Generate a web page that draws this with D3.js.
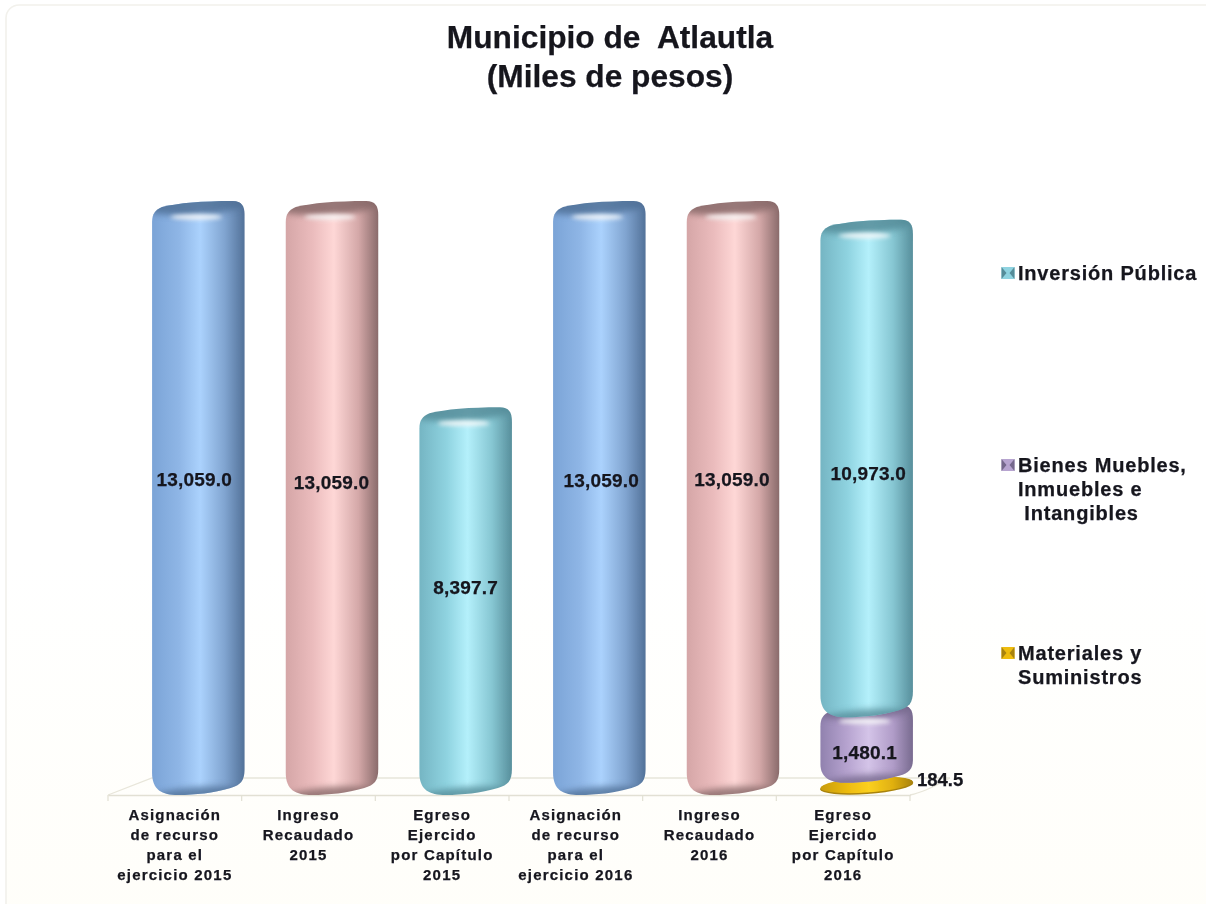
<!DOCTYPE html>
<html><head><meta charset="utf-8">
<script src="https://cdn.jsdelivr.net/npm/d3@7"></script>
<style>
html,body{margin:0;padding:0;background:#fff;overflow:hidden}
svg{display:block}
text{font-family:"Liberation Sans",Arial,sans-serif;font-weight:700;fill:#15151f;stroke:#15151f;stroke-width:.25}
</style></head><body>
<div id="chart"></div>
<script>
const categories = [
  ["Asignación","de recurso","para el","ejercicio 2015"],
  ["Ingreso","Recaudado","2015"],
  ["Egreso","Ejercido","por Capítulo","2015"],
  ["Asignación","de recurso","para el","ejercicio 2016"],
  ["Ingreso","Recaudado","2016"],
  ["Egreso","Ejercido","por Capítulo","2016"]
];
const materiales = [0,0,0,0,0,184.5];
const bienes     = [0,0,0,0,0,1480.1];
const inversion  = [0,0,8397.7,0,0,10973.0];
const asignacion = [13059.0,0,0,13059.0,0,0];
const ingreso    = [0,13059.0,0,0,13059.0,0];
const legendLines = [["Inversión Pública"],["Bienes Muebles,","Inmuebles e"," Intangibles"],["Materiales y","Suministros"]];
const legendIdx = [2,1,0];
const titleLines = ["Municipio de  Atlautla","(Miles de pesos)"];

// layout of the value labels as placed in the reference
const labelDx = [-4,-0.5,0,2,-1,1.5];
const labelBase = [486,489,594,487,486,480];

const W=1206,H=904;
const svg=d3.select("#chart").append("svg").attr("width",W).attr("height",H);
const defs=svg.append("defs");
const ramps=[
 ["#c89c0c","#eebc10","#fbd020","#e0b010","#a8820a"],
 ["#8f80ad","#b7a4d0","#d4c4e8","#b09cc8","#75688c"],
 ["#74b4c2","#8fd3e0","#b4f0fb","#86c6d2","#558c99"],
 ["#7aa3d6","#8fb6e6","#abd2fd","#80a4d0","#506f96"],
 ["#d4a5a6","#ebbcbd","#fed7d6","#d4a8a8","#866868"]];
ramps.forEach((r,i)=>{
  const g=defs.append("linearGradient").attr("id","g"+i).attr("x1",0).attr("x2",1).attr("y1",0).attr("y2",0);
  [0,.3,.52,.78,1].forEach((o,j)=>g.append("stop").attr("offset",o).attr("stop-color",r[j]));
});
const pg=defs.append("linearGradient").attr("id","panel").attr("x1",0).attr("x2",0).attr("y1",0).attr("y2",1);
pg.append("stop").attr("offset",0).attr("stop-color","#ffffff");
pg.append("stop").attr("offset",.6).attr("stop-color","#ffffff");
pg.append("stop").attr("offset",1).attr("stop-color","#fffef9");
const soft=defs.append("filter").attr("id","soft").attr("x","-5%").attr("y","-5%").attr("width","110%").attr("height","110%");
soft.append("feGaussianBlur").attr("stdDeviation",0.6);
const blur=defs.append("filter").attr("id","blur").attr("x","-50%").attr("y","-150%").attr("width","200%").attr("height","400%");
blur.append("feGaussianBlur").attr("stdDeviation",3);
const hi=defs.append("filter").attr("id","hi").attr("x","-50%").attr("y","-200%").attr("width","200%").attr("height","500%");
hi.append("feGaussianBlur").attr("stdDeviation",2);
const txt=defs.append("filter").attr("id","txt");
txt.append("feGaussianBlur").attr("stdDeviation",0.4);

// panel
svg.append("rect").attr("x",6).attr("y",5).attr("width",1230).attr("height",925).attr("rx",13)
  .attr("fill","url(#panel)").attr("stroke","#f2f1ec").attr("stroke-width",1.6);

const x=d3.scaleBand().domain(d3.range(categories.length)).range([108,910]);
const y=d3.scaleLinear().domain([0,13059]).range([786,208]);
const depth=23, barW=92.5;

// floor
svg.append("path").attr("fill","none").attr("stroke","#e8e6da").attr("stroke-width",1.3)
  .attr("d",d3.line()([[108,795],[152,778],[950,778]]));
svg.append("path").attr("fill","none").attr("stroke","#e8e6da").attr("stroke-width",1.3)
  .attr("d","M910,795 Q925,792 950,778");

// axis
const axis=svg.append("g").attr("transform","translate(0,795)").call(d3.axisBottom(x).tickSize(0).tickFormat(""));
axis.select(".domain").attr("stroke","#e2e0d4").attr("stroke-width",1.3);
axis.selectAll(".edge").data(d3.range(categories.length+1)).join("line").attr("class","edge")
  .attr("x1",d=>108+d*x.step()).attr("x2",d=>108+d*x.step()).attr("y1",0).attr("y2",6)
  .attr("stroke","#e2e0d4").attr("stroke-width",1.2);

const labels=svg.append("g");
categories.forEach((c,i)=>{
  const t=labels.append("text").attr("text-anchor","middle").attr("font-size",15).attr("letter-spacing",1.2).attr("filter","url(#txt)");
  c.forEach((l,k)=>t.append("tspan").attr("x",x(i)+x.bandwidth()/2).attr("y",820+k*20).text(l));
});

// cylinders
const fmt=d3.format(",.1f");
function cyl(x0,yT,yB){
  const x1=x0+barW;
  const s=Math.min(16,(yB-yT)/5);
  return `M${x0},${yB-s} L${x0},${yT+14}
    C${x0},${yT+6} ${x0+3},${yT+2} ${x0+10},${yT-1}
    C${x0+26},${yT-5} ${x0+50},${yT-7} ${x1-12},${yT-7}
    C${x1-3},${yT-7} ${x1},${yT-2} ${x1},${yT+7}
    L${x1},${yB-s-4}
    C${x1},${yB-8} ${x1-4},${yB-4} ${x1-14},${yB-1}
    C${x1-32},${yB+4} ${x0+44},${yB+6} ${x0+26},${yB+6}
    C${x0+10},${yB+6} ${x0},${yB+1} ${x0},${yB-s}Z`;
}
const stacks=[[0,materiales],[1,bienes],[2,inversion],[3,asignacion],[4,ingreso]];
const barsG=svg.append("g").attr("filter","url(#soft)");
let clipId=0;
categories.forEach((c,i)=>{
  const x0=x(i)+x.bandwidth()/2+depth-barW/2+0.5;
  const m=x0+barW/2;
  let acc=0;
  stacks.forEach(([si,vals])=>{
    const v=vals[i]; if(!v) return;
    const yB=acc?y(acc)-1:y(0)+3, yT=y(acc+v);
    acc+=v;
    if(si===0){
      // thin disc lying on the floor
      const cy=y(v/2)+3;
      barsG.append("ellipse").attr("cx",m).attr("cy",cy+1).attr("rx",barW/2+0.5).attr("ry",y(0)-y(v))
        .attr("transform",`rotate(-4 ${m} ${cy+1})`).attr("fill","#a8820a");
      barsG.append("ellipse").attr("cx",m).attr("cy",cy).attr("rx",barW/2).attr("ry",y(0)-y(v)-0.5)
        .attr("transform",`rotate(-4 ${m} ${cy})`).attr("fill","url(#g0)");
      return;
    }
    const id="c"+(clipId++);
    defs.append("clipPath").attr("id",id).append("path").attr("d",cyl(x0,yT,yB));
    const b=barsG.append("g").attr("clip-path",`url(#${id})`);
    b.append("rect").attr("x",x0-1).attr("y",yT-10).attr("width",barW+2).attr("height",yB-yT+20).attr("fill",`url(#g${si})`);
    b.append("ellipse").attr("cx",m).attr("cy",yT-4).attr("rx",barW/2+6).attr("ry",11)
      .attr("transform",`rotate(-4 ${m} ${yT-4})`).attr("fill",ramps[si][4]).attr("opacity",.85).attr("filter","url(#blur)");
    b.append("ellipse").attr("cx",m-2).attr("cy",yT+9).attr("rx",26).attr("ry",2.8)
      .attr("fill","#fff").attr("opacity",.85).attr("filter","url(#hi)");
    b.append("ellipse").attr("cx",m).attr("cy",yB+8).attr("rx",barW/2+6).attr("ry",10)
      .attr("transform",`rotate(-4 ${m} ${yB+8})`).attr("fill",ramps[si][4]).attr("opacity",.8).attr("filter","url(#blur)");
    const ly=si===1?759:labelBase[i];
    const lx=si===1?m-2:m+labelDx[i];
    svg.append("text").attr("text-anchor","middle").attr("x",lx).attr("y",ly)
      .attr("font-size",19).attr("letter-spacing",0.2).attr("filter","url(#txt)").text(fmt(v));
  });
});
svg.append("text").attr("x",917).attr("y",786).attr("font-size",18.5).attr("filter","url(#txt)").text(fmt(materiales[5]));

// title
const title=svg.append("g").attr("filter","url(#txt)");
titleLines.forEach((l,i)=>title.append("text").style("white-space","pre").attr("text-anchor","middle").attr("x",610).attr("y",i?87:48).attr("font-size",31.7).text(l));

// legend
const legendY=[280,472,660];
legendLines.forEach((ls,i)=>{
  const yy=legendY[i], s=legendIdx[i];
  const lg=svg.append("g").attr("filter","url(#txt)");
  lg.append("rect").attr("x",1001.5).attr("y",yy-13).attr("width",13).attr("height",12).attr("fill",ramps[s][1]);
  lg.append("path").attr("d",`M1001.5,${yy-13} L1006.5,${yy-7} L1001.5,${yy-1}Z M1014.5,${yy-13} L1009.5,${yy-7} L1014.5,${yy-1}Z`).attr("fill",ramps[s][4]);
  const t=svg.append("text").attr("font-size",20).attr("letter-spacing",0.8).style("white-space","pre").attr("filter","url(#txt)");
  ls.forEach((l,k)=>t.append("tspan").attr("x",1018).attr("y",yy+k*24.2).text(l));
});
</script>
</body></html>
